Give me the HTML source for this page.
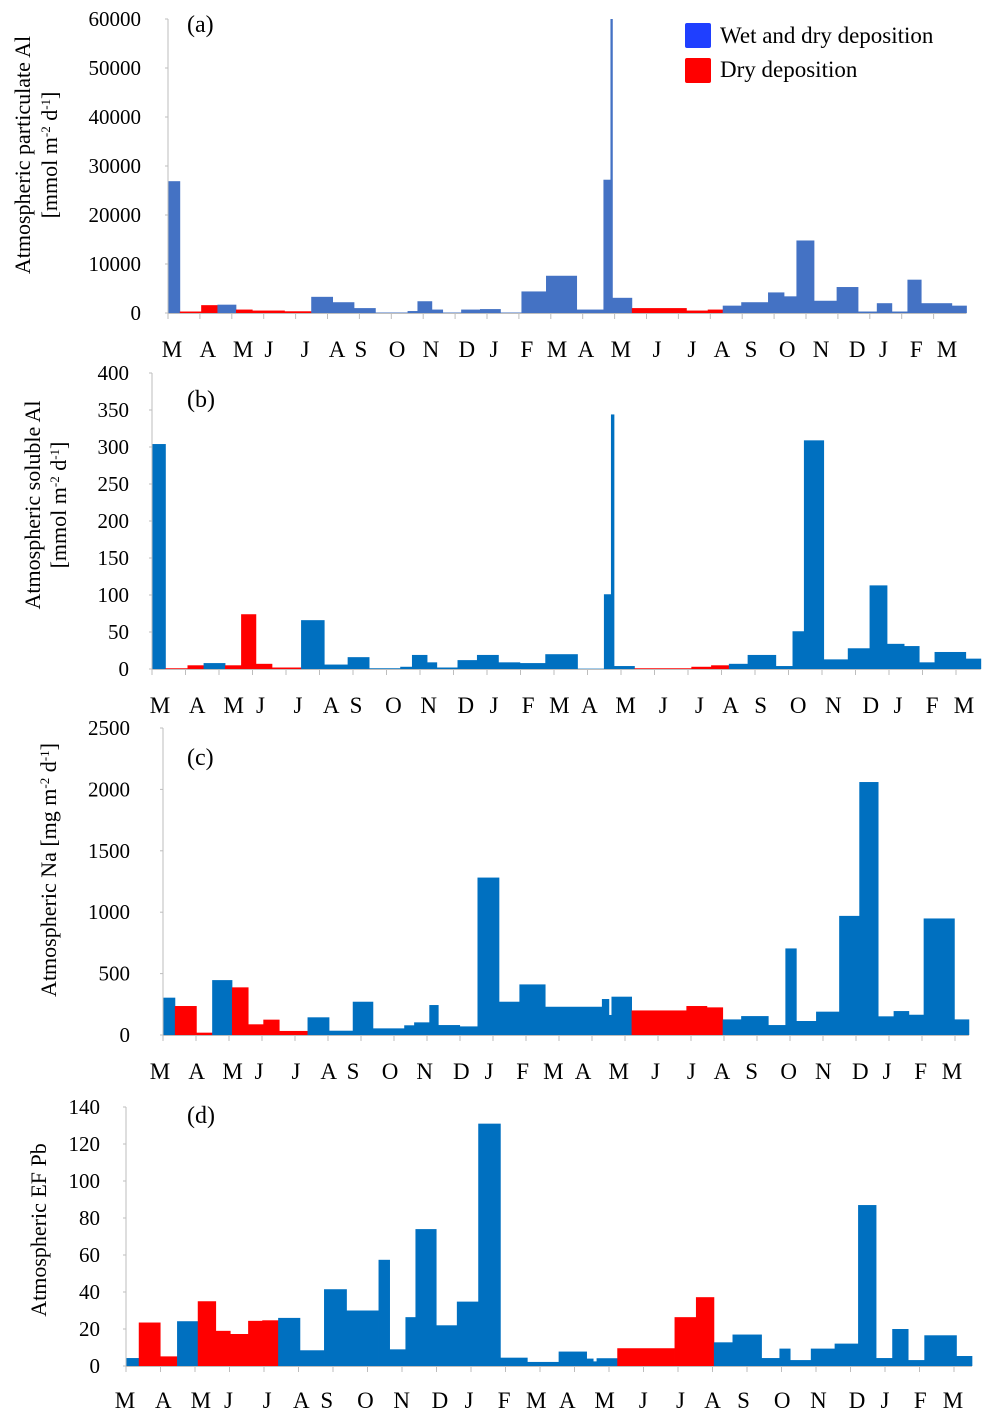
<!DOCTYPE html>
<html><head><meta charset="utf-8">
<style>
html,body{margin:0;padding:0;background:#fff;}
svg{display:block;font-family:"Liberation Serif",serif;}
</style></head>
<body>
<svg id="chart" width="1002" height="1418" viewBox="0 0 1002 1418" xmlns="http://www.w3.org/2000/svg"></svg>
<script>
const monthLabels = ["M","A","M","J","J","A","S","O","N","D","J","F","M","A","M","J","J","A","S","O","N","D","J","F","M"];
const monthLabelPos = [0,1.11,2.2,3.0,4.12,5.11,5.85,6.97,8.02,9.13,9.97,10.99,11.92,12.82,13.9,15.02,16.1,17.03,17.93,19.05,20.1,21.22,22.03,23.05,24];

// Panel (a): atmospheric particulate Al (edges in months from start)
const edgesA = [0,0.37,1.04,1.55,2.13,2.64,3.65,4.49,5.16,5.83,6.50,7.51,7.82,8.27,8.61,9.19,9.78,10.42,11.08,11.85,12.81,13.65,13.87,13.93,14.54,16.25,16.92,17.39,17.97,18.81,19.31,19.70,20.25,20.96,21.63,22.22,22.69,23.18,23.61,24.57,25.03];
const valuesA = [26900,300,1600,1700,700,500,350,3300,2200,1000,100,400,2400,700,100,700,800,100,4400,7600,700,27200,60000,3100,1000,500,700,1500,2200,4200,3400,14800,2500,5300,300,2000,300,6800,2000,1500];
const typesA = "bddbddd" + "bbbbbbbbbbbbbbbbb" + "ddd" + "bbbbbbbbbbbbb";

// Panel (b): atmospheric soluble Al
const edgesB = [0,0.40,1.06,1.54,2.18,2.66,3.10,3.58,4.45,5.14,5.84,6.48,7.41,7.76,8.21,8.50,9.12,9.70,10.34,10.98,11.74,12.70,13.49,13.70,13.79,14.40,16.10,16.69,17.22,17.78,18.62,19.12,19.46,20.05,20.77,21.42,21.94,22.45,22.90,23.36,24.29,24.74];
const valuesB = [304,1,5,8,5,74,7,2,66,6,16,1,3,19,9,2,12,19,9,8,20,0.5,101,344,4,1,3,5,7,19,4,51,309,13,28,113,34,31,9,23,14];
const typesB = "bddbdddd" + "bbbbbbbbbbbbbbbbb" + "ddd" + "bbbbbbbbbbbbb";

// Panel (c): atmospheric Na
const edgesC = [0,0.36,1.01,1.49,2.09,2.58,3.04,3.52,4.38,5.03,5.75,6.36,7.31,7.61,8.07,8.34,8.99,9.53,10.18,10.80,11.58,13.30,13.51,13.59,14.20,15.86,16.48,16.96,17.52,18.34,18.86,19.19,19.79,20.49,21.10,21.67,22.14,22.60,23.05,23.98,24.42];
const valuesC = [304,236,19,447,388,87,125,33,144,35,271,54,79,103,244,81,70,1282,271,412,230,293,163,312,200,236,225,127,154,81,705,114,190,970,2060,152,195,165,949,127];
const typesC = "bddbdddd" + "bbbbbbbbbbbbbbbb" + "ddd" + "bbbbbbbbbbbbb";

// Panel (d): atmospheric EF Pb
const edgesD = [0,0.37,0.99,1.48,2.08,2.60,3.02,3.54,3.95,4.41,5.04,5.74,6.39,7.32,7.64,8.10,8.39,8.99,9.59,10.21,10.85,11.63,12.54,13.35,13.54,13.64,14.24,15.90,16.52,17.04,17.58,18.42,18.94,19.25,19.85,20.54,21.22,21.74,22.21,22.67,23.14,24.07,24.52];
const valuesD = [4.3,23.5,5.2,24.2,35,19,17.3,24.4,24.7,26,8.5,41.5,30,57.4,9,26.4,74,22,34.8,131,4.5,2.2,7.8,4,2.5,4.2,9.6,26.4,37.2,12.8,17,4.3,9.4,3.2,9.4,12.1,87,4.3,20,3.2,16.6,5.4];
const typesD = "bddbddddd" + "bbbbbbbbbbbbbbbbb" + "ddd" + "bbbbbbbbbbbbb";

const ticksA = [0,10000,20000,30000,40000,50000,60000];
const ticksB = [0,50,100,150,200,250,300,350,400];
const ticksC = [0,500,1000,1500,2000,2500];
const ticksD = [0,20,40,60,80,100,120,140];

const NS = "http://www.w3.org/2000/svg";
const svg = document.getElementById("chart");
function mk(tag, attrs, parent, text){
  const e = document.createElementNS(NS, tag);
  for (const k in attrs) e.setAttribute(k, attrs[k]);
  if (text !== undefined) e.textContent = text;
  (parent||svg).appendChild(e);
  return e;
}

const panels = [
  {id:"a", edges:edgesA, values:valuesA, types:typesA, ticks:ticksA, max:60000, x0:168, ppm:31.9, y0:313, yTop:19, blue:"#4472C4",
   tickRight:141, tickDy:7, labelY:357, labStart:172, labEnd:947, letterY:32,
   title:["Atmospheric particulate Al","[mmol m<tspan baseline-shift='super' font-size='13'>-2</tspan> d<tspan baseline-shift='super' font-size='13'>-1</tspan>]"], titleX:[30,57], titleY:155},
  {id:"b", edges:edgesB, values:valuesB, types:typesB, ticks:ticksB, max:400, x0:152, ppm:33.5, y0:669, yTop:373, blue:"#0070C0",
   tickRight:129, tickDy:7, labelY:713, labStart:160, labEnd:964, letterY:407,
   title:["Atmospheric soluble Al","[mmol m<tspan baseline-shift='super' font-size='13'>-2</tspan> d<tspan baseline-shift='super' font-size='13'>-1</tspan>]"], titleX:[40,66], titleY:505},
  {id:"c", edges:edgesC, values:valuesC, types:typesC, ticks:ticksC, max:2500, x0:163, ppm:33, y0:1035, yTop:728, blue:"#0070C0",
   tickRight:130, tickDy:7, labelY:1079, labStart:160, labEnd:952, letterY:765,
   title:["Atmospheric Na [mg m<tspan baseline-shift='super' font-size='13'>-2</tspan> d<tspan baseline-shift='super' font-size='13'>-1</tspan>]"], titleX:[56], titleY:870},
  {id:"d", edges:edgesD, values:valuesD, types:typesD, ticks:ticksD, max:140, x0:126, ppm:34.5, y0:1366, yTop:1107, blue:"#0070C0",
   tickRight:100, tickDy:7, labelY:1408, labStart:125, labEnd:953, letterY:1123,
   title:["Atmospheric EF Pb"], titleX:[46], titleY:1230}
];

panels.forEach(p => {
  const g = mk("g", {});
  
  
  const xs = m => p.x0 + m * p.ppm;
  const ys = v => p.y0 - (v / p.max) * (p.y0 - p.yTop);
  const xEnd = xs(p.edges[p.edges.length-1]);
  for (let i = 0; i < p.values.length; i++) {
    const x1 = xs(p.edges[i]), x2 = xs(p.edges[i+1]);
    const y = ys(p.values[i]);
    const r = mk("rect", {x:x1, y:y, width:Math.max(x2-x1,0.8)+0.4, height:p.y0-y, fill:p.types[i]==="d" ? "#FF0000" : p.blue}, g);
    
    
  }
  const ya = mk("line", {x1:p.x0, y1:p.yTop, x2:p.x0, y2:p.y0, stroke:"#bdbdbd", "stroke-width":1}, g);
  
  
  const xa = mk("line", {x1:p.x0, y1:p.y0+0.5, x2:xEnd, y2:p.y0+0.5, stroke:"#bdbdbd", "stroke-width":1}, g);
  
  
  for (let m = 0; m <= 24; m++) {
    mk("line", {x1:xs(m), y1:p.y0, x2:xs(m), y2:p.y0+6, stroke:"#bdbdbd", "stroke-width":1}, g);
  }
  p.ticks.forEach(t => {
    mk("line", {x1:p.x0-3, y1:ys(t), x2:p.x0, y2:ys(t), stroke:"#bdbdbd"}, g);
    const tl = mk("text", {x:p.tickRight, y:ys(t)+p.tickDy, "text-anchor":"end", "font-size":21, fill:"#000"}, g, String(t));
    
    
  });
  const step = (p.labEnd - p.labStart) / 24;
  monthLabels.forEach((lab, i) => {
    const tx = mk("text", {x:p.labStart + monthLabelPos[i]*step, y:p.labelY, "text-anchor":"middle", "font-size":23, fill:"#000"}, g, lab);
    
    
  });
  const lt = mk("text", {x:187, y:p.letterY, "font-size":24, fill:"#000"}, g, "(" + p.id + ")");
  
  
  p.title.forEach((t, k) => {
    const tt = mk("text", {transform:"translate(" + p.titleX[k] + "," + p.titleY + ") rotate(-90)", "text-anchor":"middle", "font-size":22, fill:"#000"}, g);
    tt.innerHTML = t;
    
    
  });
});

const lg = mk("g", {});


const s1 = mk("rect", {x:685, y:23, width:26, height:25, rx:2, fill:"#1F3FFF"}, lg);


const t1 = mk("text", {x:720, y:43, "font-size":23, fill:"#000"}, lg, "Wet and dry deposition");


const s2 = mk("rect", {x:685, y:58, width:26, height:25, rx:2, fill:"#FF0000"}, lg);


const t2 = mk("text", {x:720, y:77, "font-size":23, fill:"#000"}, lg, "Dry deposition");


</script>
</body></html>
